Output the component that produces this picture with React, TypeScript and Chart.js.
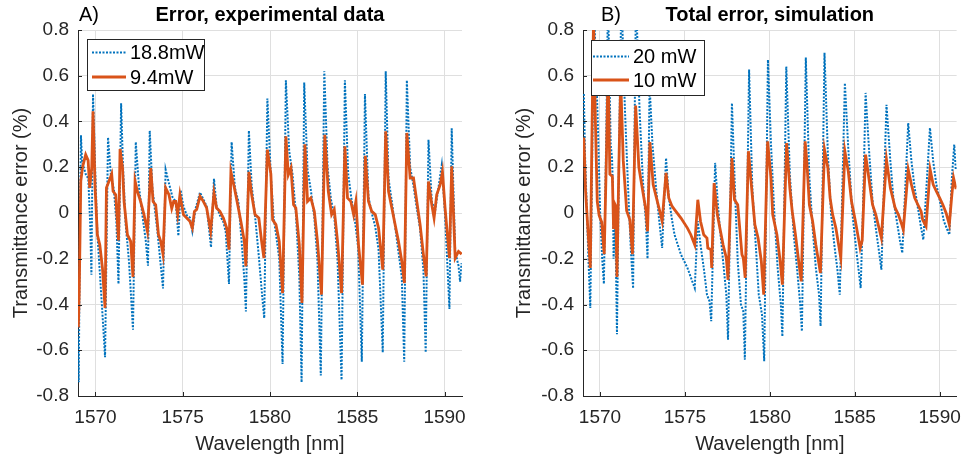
import React, { useEffect, useRef } from 'react';
import { Chart, registerables } from 'chart.js';

Chart.register(...registerables);

// ---------- axes ----------
const xTicks = [1570, 1575, 1580, 1585, 1590];
const yTicks = [-0.8, -0.6, -0.4, -0.2, 0, 0.2, 0.4, 0.6, 0.8];

// ---------- panel A: experimental data ----------
const expWavelength188 = [1569.00,1569.04,1569.13,1569.17,1569.24,1569.33,1569.44,1569.59,1569.70,1569.77,1569.86,1569.98,1570.11,1570.40,1570.55,1570.72,1570.88,1571.06,1571.20,1571.32,1571.47,1571.58,1571.73,1571.92,1572.15,1572.31,1572.50,1572.69,1572.88,1573.01,1573.11,1573.26,1573.55,1573.87,1574.02,1574.21,1574.41,1574.60,1574.75,1574.88,1575.04,1575.23,1575.41,1575.55,1575.74,1575.99,1576.18,1576.37,1576.62,1576.79,1576.94,1577.13,1577.33,1577.46,1577.65,1577.80,1577.99,1578.19,1578.37,1578.53,1578.62,1578.79,1578.95,1579.14,1579.36,1579.56,1579.67,1579.85,1580.05,1580.21,1580.34,1580.53,1580.62,1580.72,1580.91,1581.10,1581.29,1581.48,1581.68,1581.81,1581.96,1582.15,1582.34,1582.54,1582.72,1582.91,1583.11,1583.30,1583.49,1583.68,1583.87,1584.10,1584.29,1584.48,1584.67,1584.86,1585.05,1585.26,1585.44,1585.64,1585.83,1586.03,1586.22,1586.46,1586.63,1586.79,1586.98,1587.17,1587.36,1587.55,1587.69,1587.84,1588.03,1588.22,1588.41,1588.60,1588.79,1588.92,1589.08,1589.27,1589.46,1589.65,1589.84,1590.03,1590.28,1590.41,1590.61,1590.80,1590.89,1590.97];
const expError188 = [-0.55,-0.74,0.10,0.34,0.22,0.20,0.17,0.15,-0.05,-0.27,0.52,0.20,-0.09,-0.44,-0.63,0.33,0.17,0.10,-0.04,-0.31,0.48,0.20,-0.05,-0.21,-0.51,0.31,0.11,-0.01,-0.12,-0.23,0.36,0.11,-0.08,-0.33,0.19,0.13,0.07,0.05,-0.10,0.10,0.03,-0.01,-0.02,-0.08,0.02,0.09,0.06,0.03,-0.15,0.15,0.03,-0.01,-0.04,-0.08,-0.31,0.31,0.11,0.05,-0.12,-0.29,-0.43,0.36,0.12,-0.01,-0.19,-0.37,-0.46,0.50,0.16,-0.02,-0.09,-0.20,-0.42,-0.66,0.58,0.27,0.17,0.00,-0.28,-0.74,0.57,0.19,0.10,-0.02,-0.21,-0.71,0.62,0.20,0.06,-0.01,-0.21,-0.73,0.58,0.17,0.06,-0.03,-0.15,-0.65,0.52,0.07,0.00,-0.06,-0.16,-0.61,0.62,0.15,0.05,-0.06,-0.17,-0.28,-0.65,0.58,0.20,0.12,0.02,-0.07,-0.25,-0.61,0.32,0.05,0.01,0.11,0.21,-0.01,-0.42,0.37,-0.17,-0.23,-0.30,-0.22];

const expWavelength94 = [1569.02,1569.07,1569.16,1569.26,1569.44,1569.58,1569.67,1569.79,1569.86,1569.98,1570.11,1570.25,1570.40,1570.55,1570.63,1570.78,1570.93,1571.01,1571.16,1571.32,1571.41,1571.55,1571.64,1571.83,1572.02,1572.15,1572.27,1572.40,1572.59,1572.78,1572.98,1573.17,1573.30,1573.45,1573.61,1573.74,1573.87,1574.02,1574.21,1574.37,1574.48,1574.60,1574.71,1574.84,1575.04,1575.23,1575.41,1575.55,1575.67,1575.80,1575.99,1576.18,1576.37,1576.60,1576.79,1576.94,1577.13,1577.33,1577.52,1577.65,1577.76,1577.96,1578.15,1578.33,1578.53,1578.62,1578.79,1578.95,1579.14,1579.36,1579.52,1579.65,1579.85,1580.05,1580.15,1580.34,1580.53,1580.72,1580.91,1581.05,1581.20,1581.35,1581.48,1581.68,1581.83,1582.00,1582.15,1582.34,1582.54,1582.72,1582.95,1583.14,1583.34,1583.53,1583.68,1583.87,1584.10,1584.29,1584.44,1584.63,1584.79,1584.92,1585.07,1585.30,1585.46,1585.64,1585.83,1586.03,1586.22,1586.46,1586.63,1586.79,1586.98,1587.17,1587.36,1587.55,1587.70,1587.84,1588.03,1588.22,1588.41,1588.60,1588.79,1588.95,1589.08,1589.27,1589.40,1589.55,1589.75,1589.88,1590.03,1590.28,1590.41,1590.61,1590.80,1590.98];
const expError94 = [-0.50,-0.35,0.14,0.20,0.255,0.23,0.11,0.20,0.445,0.11,-0.095,-0.14,-0.24,-0.415,0.11,0.14,0.17,0.095,0.08,-0.12,0.28,0.197,0.05,-0.095,-0.124,-0.28,0.14,0.095,0.05,-0.007,-0.08,0.196,0.05,0.036,-0.095,-0.124,-0.18,0.11,0.08,0.02,0.051,0.051,-0.007,0.08,-0.007,-0.022,-0.036,-0.066,0.007,0.015,0.073,0.051,0.022,-0.08,0.088,0.022,0.007,-0.022,-0.066,-0.16,0.18,0.11,0.036,-0.036,-0.124,-0.233,0.18,0.08,-0.007,-0.022,-0.124,-0.197,0.277,0.17,-0.03,-0.051,-0.124,-0.35,0.335,0.167,0.197,0.036,0.022,-0.139,-0.393,0.30,0.051,0.066,0.007,-0.124,-0.357,0.342,0.095,-0.007,0.015,-0.124,-0.35,0.292,0.066,0.051,-0.007,0.051,-0.139,-0.313,0.25,0.051,0.007,-0.007,-0.066,-0.248,0.357,0.095,0.022,-0.051,-0.124,-0.211,-0.306,0.35,0.153,0.153,0.051,-0.051,-0.182,-0.277,0.138,0.036,-0.022,0.08,0.124,0.18,0.022,-0.197,0.204,-0.197,-0.168,-0.18];

// ---------- panel B: simulation ----------
const simWavelength20 = [1569.05,1569.12,1569.21,1569.32,1569.43,1569.55,1569.67,1569.87,1570.01,1570.13,1570.23,1570.38,1570.47,1570.63,1570.71,1570.76,1570.80,1570.90,1571.00,1571.13,1571.26,1571.47,1571.66,1571.81,1571.95,1572.04,1572.12,1572.33,1572.52,1572.71,1572.80,1572.92,1573.09,1573.29,1573.47,1573.66,1573.89,1574.05,1574.24,1574.39,1574.77,1575.15,1575.44,1575.58,1575.76,1575.92,1576.11,1576.30,1576.45,1576.55,1576.78,1576.93,1577.06,1577.25,1577.44,1577.54,1577.77,1577.96,1578.11,1578.30,1578.44,1578.53,1578.78,1578.97,1579.16,1579.35,1579.54,1579.67,1579.89,1580.07,1580.27,1580.46,1580.65,1580.74,1580.97,1581.18,1581.41,1581.60,1581.79,1581.89,1582.12,1582.33,1582.52,1582.71,1582.90,1582.99,1583.22,1583.42,1583.61,1583.80,1583.99,1584.12,1584.42,1584.62,1584.85,1585.08,1585.35,1585.48,1585.64,1585.86,1586.05,1586.24,1586.43,1586.57,1586.87,1587.10,1587.29,1587.48,1587.67,1587.80,1588.15,1588.34,1588.53,1588.72,1588.91,1589.04,1589.43,1589.62,1589.81,1590.06,1590.25,1590.57,1590.72,1590.86,1590.95,1590.99];
const simError20 = [0.52,0.25,0.05,-0.20,-0.415,0.30,0.85,0.40,0.00,-0.20,-0.31,0.40,0.95,0.30,0.24,0.11,-0.20,-0.02,-0.53,0.30,0.95,0.45,0.10,-0.15,-0.33,0.40,0.95,0.45,0.15,-0.05,-0.20,0.56,0.30,0.12,-0.02,-0.153,0.24,0.07,-0.03,-0.095,-0.182,-0.24,-0.30,-0.328,-0.036,-0.139,-0.24,-0.357,-0.386,-0.473,0.219,0.051,-0.066,-0.211,-0.357,-0.554,0.48,0.08,-0.211,-0.40,-0.43,-0.641,0.627,0.109,-0.124,-0.357,-0.445,-0.648,0.67,0.299,-0.007,-0.24,-0.40,-0.54,0.64,0.167,-0.095,-0.24,-0.40,-0.517,0.68,0.153,-0.066,-0.24,-0.357,-0.495,0.70,0.255,-0.007,-0.139,-0.255,-0.357,0.568,0.284,0.007,-0.153,-0.328,0.00,0.525,0.255,0.051,-0.066,-0.168,-0.248,0.473,0.226,0.051,-0.036,-0.124,-0.175,0.393,0.226,0.109,0.022,-0.066,-0.117,0.372,0.226,0.124,0.036,-0.036,-0.095,0.153,0.299,0.19,0.20];

const simWavelength10 = [1569.05,1569.15,1569.27,1569.43,1569.52,1569.62,1569.73,1569.84,1569.95,1570.10,1570.25,1570.38,1570.48,1570.58,1570.73,1570.80,1570.87,1570.93,1571.00,1571.11,1571.22,1571.37,1571.57,1571.76,1571.91,1572.10,1572.29,1572.52,1572.71,1572.80,1572.94,1573.13,1573.38,1573.57,1573.66,1573.89,1574.05,1574.24,1574.39,1574.77,1575.15,1575.35,1575.58,1575.76,1575.92,1576.11,1576.30,1576.35,1576.53,1576.58,1576.72,1576.91,1577.06,1577.25,1577.44,1577.54,1577.77,1577.92,1578.11,1578.21,1578.36,1578.44,1578.55,1578.74,1578.93,1579.12,1579.31,1579.50,1579.64,1579.87,1580.07,1580.17,1580.42,1580.61,1580.74,1580.99,1581.18,1581.32,1581.51,1581.70,1581.85,1582.08,1582.18,1582.33,1582.52,1582.71,1582.98,1583.22,1583.42,1583.55,1583.70,1583.89,1584.18,1584.42,1584.62,1584.81,1585.04,1585.32,1585.44,1585.64,1585.86,1586.05,1586.24,1586.43,1586.57,1586.87,1587.10,1587.38,1587.57,1587.77,1587.86,1588.15,1588.34,1588.53,1588.72,1588.91,1589.00,1589.20,1589.44,1589.62,1589.81,1590.00,1590.19,1590.38,1590.57,1590.72,1590.82,1590.95,1590.99];
const simError10 = [0.33,0.10,-0.05,-0.24,0.30,0.85,0.40,0.05,-0.01,-0.04,-0.18,0.25,0.65,0.17,0.16,-0.07,0.04,0.03,-0.28,0.20,0.58,0.23,0.01,-0.03,-0.18,0.47,0.20,0.095,0.01,-0.08,0.31,0.125,0.05,-0.007,-0.036,0.175,0.066,0.03,0.015,-0.022,-0.066,-0.095,-0.139,0.058,-0.036,-0.095,-0.11,-0.153,-0.16,-0.24,0.131,-0.007,-0.066,-0.139,-0.197,-0.292,0.24,0.058,0.036,-0.051,-0.182,-0.197,-0.284,0.27,0.109,-0.051,-0.109,-0.211,-0.357,0.313,0.153,-0.007,-0.095,-0.211,-0.313,0.306,0.109,0.007,-0.095,-0.211,-0.299,0.313,0.226,0.036,-0.036,-0.139,-0.262,0.277,0.197,0.066,-0.007,-0.066,-0.197,0.27,0.182,0.051,-0.036,-0.153,-0.12,0.255,0.138,0.036,-0.007,-0.066,-0.109,0.233,0.109,0.022,-0.007,-0.051,-0.073,0.19,0.124,0.066,0.036,0.007,-0.03,-0.058,0.19,0.124,0.095,0.066,0.036,0.00,-0.051,0.08,0.153,0.11,0.11];

// ---------- styles ----------
const BLUE = '#0072BD';
const ORANGE = '#D95319';
const TEXT = '#262626';
const GRID = '#dfdfdf';
const FONT = '"Liberation Sans", Arial, Helvetica, sans-serif';
const BLUE_DASH = [2, 1.5];

function toPoints(xs: number[], ys: number[]) {
  const n = Math.min(xs.length, ys.length);
  const out: { x: number; y: number }[] = [];
  for (let i = 0; i < n; i++) out.push({ x: xs[i], y: ys[i] });
  return out;
}

type PanelCfg = {
  tag: string;
  tagX: number;
  title: string;
  yLabelX: number;
  axisWidth: number;
  padRight: number;
  legend: { dx: number; dy: number; w: number; h: number; rows: number[]; sx0: number; sx1: number; tx: number };
  blueLabel: string;
  orangeLabel: string;
  blueX: number[];
  blueY: number[];
  orangeX: number[];
  orangeY: number[];
};

function makeDecor(cfg: PanelCfg) {
  return {
    id: 'decor' + cfg.tag,
    afterDatasetsDraw(chart: any) {
      const { ctx, chartArea: a } = chart;
      const xs = chart.scales.x;
      const ys = chart.scales.y;
      ctx.save();
      // inward tick marks
      ctx.strokeStyle = TEXT;
      ctx.lineWidth = 1;
      ctx.setLineDash([]);
      ctx.beginPath();
      for (const t of xTicks) {
        const px = Math.round(xs.getPixelForValue(t)) + 0.5;
        ctx.moveTo(px, a.bottom);
        ctx.lineTo(px, a.bottom - 4);
      }
      for (const t of yTicks) {
        const py = Math.round(ys.getPixelForValue(t)) + 0.5;
        ctx.moveTo(a.left, py);
        ctx.lineTo(a.left + 4, py);
      }
      ctx.stroke();
      // legend box
      const L = cfg.legend;
      const bx = Math.round(a.left + L.dx);
      const by = Math.round(a.top + L.dy);
      ctx.fillStyle = '#ffffff';
      ctx.fillRect(bx, by, L.w, L.h);
      ctx.strokeStyle = TEXT;
      ctx.lineWidth = 1;
      ctx.strokeRect(bx + 0.5, by + 0.5, L.w, L.h);
      const items = [
        { label: cfg.blueLabel, color: BLUE, width: 2, dash: BLUE_DASH },
        { label: cfg.orangeLabel, color: ORANGE, width: 2.8, dash: [] as number[] },
      ];
      items.forEach((it, i) => {
        const y = by + L.rows[i];
        ctx.beginPath();
        ctx.setLineDash(it.dash);
        ctx.strokeStyle = it.color;
        ctx.lineWidth = it.width;
        ctx.moveTo(bx + L.sx0, y);
        ctx.lineTo(bx + L.sx1, y);
        ctx.stroke();
        ctx.setLineDash([]);
        ctx.fillStyle = '#000000';
        ctx.font = `20px ${FONT}`;
        ctx.textAlign = 'left';
        ctx.textBaseline = 'middle';
        ctx.fillText(it.label, bx + L.tx, y + 1);
      });
      ctx.restore();
    },
    afterDraw(chart: any) {
      const { ctx, chartArea: a } = chart;
      ctx.save();
      // panel tag and title
      ctx.fillStyle = '#000000';
      ctx.textBaseline = 'alphabetic';
      ctx.textAlign = 'left';
      ctx.font = `20px ${FONT}`;
      ctx.fillText(cfg.tag, cfg.tagX, 21);
      ctx.textAlign = 'center';
      ctx.font = `bold 20px ${FONT}`;
      ctx.fillText(cfg.title, (a.left + a.right) / 2, 21);
      // x label
      ctx.fillStyle = TEXT;
      ctx.font = `20px ${FONT}`;
      ctx.fillText('Wavelength [nm]', (a.left + a.right) / 2, 450);
      // y label
      ctx.translate(cfg.yLabelX, (a.top + a.bottom) / 2);
      ctx.rotate(-Math.PI / 2);
      ctx.textBaseline = 'middle';
      ctx.fillText('Transmittance error (%)', 0, 0);
      ctx.restore();
    },
  };
}

function buildConfig(cfg: PanelCfg): any {
  return {
    type: 'line',
    data: {
      datasets: [
        {
          label: cfg.orangeLabel,
          data: toPoints(cfg.orangeX, cfg.orangeY),
          borderColor: ORANGE,
          borderWidth: 2.8,
          pointRadius: 0,
          tension: 0,
          fill: false,
          clip: 0,
        },
        {
          label: cfg.blueLabel,
          data: toPoints(cfg.blueX, cfg.blueY),
          borderColor: BLUE,
          borderWidth: 2,
          borderDash: BLUE_DASH,
          pointRadius: 0,
          tension: 0,
          fill: false,
          clip: 0,
        },
      ],
    },
    options: {
      animation: false,
      responsive: false,
      maintainAspectRatio: false,
      events: [],
      layout: { padding: { left: 0, top: 30, right: cfg.padRight, bottom: 0 } },
      plugins: {
        legend: { display: false },
        tooltip: { enabled: false },
        title: { display: false },
      },
      scales: {
        x: {
          type: 'linear',
          min: 1569,
          max: 1591,
          afterBuildTicks: (s: any) => {
            s.ticks = xTicks.map((v) => ({ value: v }));
          },
          afterFit: (s: any) => {
            s.height = 62;
          },
          grid: { color: GRID, drawTicks: false, lineWidth: 1 },
          border: { display: true, color: TEXT, width: 1 },
          ticks: {
            color: TEXT,
            font: { family: FONT, size: 19 },
            padding: 10,
            maxRotation: 0,
            autoSkip: false,
            callback: (v: any) => String(v),
          },
        },
        y: {
          type: 'linear',
          min: -0.8,
          max: 0.8,
          afterBuildTicks: (s: any) => {
            s.ticks = yTicks.map((v) => ({ value: v }));
          },
          afterFit: (s: any) => {
            s.width = cfg.axisWidth;
          },
          grid: { color: GRID, drawTicks: false, lineWidth: 1 },
          border: { display: true, color: TEXT, width: 1 },
          ticks: {
            color: TEXT,
            font: { family: FONT, size: 19 },
            padding: 9,
            autoSkip: false,
            callback: (v: any) => (Math.abs(Number(v)) < 1e-9 ? '0' : Number(v).toFixed(1)),
          },
        },
      },
    },
    plugins: [makeDecor(cfg)],
  };
}

const panelA: PanelCfg = {
  tag: 'A)',
  tagX: 79,
  title: 'Error, experimental data',
  yLabelX: 21,
  axisWidth: 78,
  padRight: 23,
  legend: { dx: 9, dy: 9, w: 117, h: 51, rows: [13.5, 38], sx0: 5, sx1: 39, tx: 43 },
  blueLabel: '18.8mW',
  orangeLabel: '9.4mW',
  blueX: expWavelength188,
  blueY: expError188,
  orangeX: expWavelength94,
  orangeY: expError94,
};

const panelB: PanelCfg = {
  tag: 'B)',
  tagX: 115,
  title: 'Total error, simulation',
  yLabelX: 38,
  axisWidth: 97,
  padRight: 5,
  legend: { dx: 8, dy: 10, w: 113, h: 55, rows: [16.5, 40], sx0: 2, sx1: 38, tx: 42 },
  blueLabel: '20 mW',
  orangeLabel: '10 mW',
  blueX: simWavelength20,
  blueY: simError20,
  orangeX: simWavelength10,
  orangeY: simError10,
};

function Panel({ cfg, left }: { cfg: PanelCfg; left: number }) {
  const ref = useRef<HTMLCanvasElement | null>(null);
  useEffect(() => {
    if (!ref.current) return;
    const chart = new Chart(ref.current, buildConfig(cfg));
    return () => chart.destroy();
  }, [cfg]);
  return (
    <canvas
      ref={ref}
      width={485}
      height={458}
      style={{ position: 'absolute', left, top: 0, width: 485, height: 458 }}
    />
  );
}

export default function App() {
  useEffect(() => {
    document.body.style.margin = '0';
    document.body.style.background = '#ffffff';
  }, []);
  return (
    <div style={{ position: 'relative', width: 971, height: 458, background: '#ffffff', overflow: 'hidden' }}>
      <Panel cfg={panelA} left={0} />
      <Panel cfg={panelB} left={486} />
    </div>
  );
}
